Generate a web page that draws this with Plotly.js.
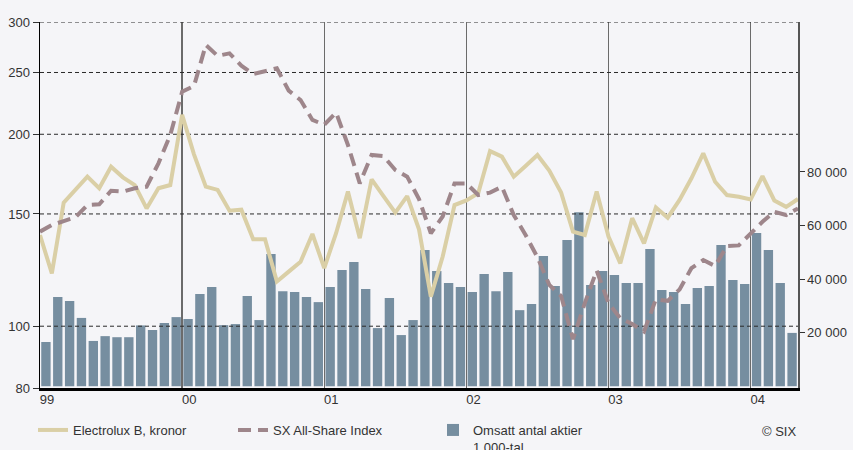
<!DOCTYPE html>
<html><head><meta charset="utf-8">
<script src="https://cdn.plot.ly/plotly-3.0.1.min.js"></script>
<style>html,body{margin:0;padding:0;background:#f5f5f8;}#chart{width:853px;height:450px;}</style>
</head><body><div id="chart"></div>
<script>
const yearLabels = ['99','00','01','02','03','04'];
const yearStarts = [0,12,24,36,48,60];
const priceTicks = [80,100,150,200,250,300];
const gridLevels = [100,150,200,250,300];
const volumeTicks = [20000,40000,60000,80000];
const volumeTickText = ['20 000','40 000','60 000','80 000'];

// Electrolux B, kronor (month-end values, Dec 1998 .. Apr 2004)
const electrolux = [139.0,121.0,156.2,163.6,171.6,164.6,177.9,171.2,166.5,153.0,164.6,166.5,
  214.5,186.0,165.5,163.6,151.8,152.3,136.9,136.9,117.5,121.8,126.2,139.5,
  123.4,139.9,162.6,137.4,170.0,160.0,150.7,160.0,141.9,111.3,128.6,154.9,
  157.5,161.6,188.2,184.5,171.6,178.4,185.6,175.4,162.0,140.7,139.0,162.6,
  138.2,125.5,147.7,134.9,153.6,148.0,157.8,170.6,186.7,168.5,160.6,159.6,
  158.0,172.0,157.5,153.9,158.3];

// SX All-Share Index (rebased)
const sxIndex = [140.7,144.1,146.2,148.2,154.9,155.3,163.1,162.6,164.6,165.5,180.1,199.5,
  233.2,238.1,276.1,265.4,267.9,256.2,248.7,251.6,253.8,234.1,226.3,210.6,
  207.0,216.3,192.4,167.5,185.6,184.8,175.8,171.6,158.3,139.9,148.6,167.5,
  167.5,160.6,162.0,165.5,149.4,139.0,128.3,116.1,111.5,95.4,108.7,122.3,
  108.7,102.9,100.8,98.1,110.2,109.6,114.2,123.3,127.0,124.3,133.6,133.9,
  140.0,145.8,151.2,149.4,153.0];

// Omsatt antal aktier, 1 000-tal (monthly, Jan 1999 .. Apr 2004)
const volume = [16500,33300,31800,25500,16900,18700,18300,18300,22700,21000,23600,25800,
  25100,34400,37000,22800,23200,33700,24700,49400,35500,35200,33300,31400,
  37000,43400,46400,36300,21700,32900,19100,24700,50900,43000,38500,37000,
  35200,41900,35500,42600,28400,30700,48600,37400,54600,65000,37800,43000,
  41500,38500,38500,51200,35900,35200,30700,36700,37400,52700,39700,38200,
  57200,50900,38500,19900];

const nMonths = volume.length;
const monthEnds = electrolux.map((_, i) => i);
const monthMids = volume.map((_, i) => i + 0.5);

const gridX = [], gridY = [];
gridLevels.forEach(v => { gridX.push(0, nMonths, null); gridY.push(v, v, null); });

const traces = [
  {type:'bar', x:monthMids, y:volume, xaxis:'x', yaxis:'y', name:'Omsatt antal aktier<br>1 000-tal',
   marker:{color:'#768ea0'}, legendrank:3, hoverinfo:'skip'},
  {type:'scatter', mode:'lines', x:gridX, y:gridY, xaxis:'x', yaxis:'y2', showlegend:false,
   line:{color:'#2a2a2a', width:1, dash:'4px,3px'}, hoverinfo:'skip'},
  {type:'scatter', mode:'lines', x:monthEnds, y:electrolux, xaxis:'x', yaxis:'y2', name:'Electrolux B, kronor',
   line:{color:'#dacfa6', width:4}, legendrank:1},
  {type:'scatter', mode:'lines', x:monthEnds, y:sxIndex, xaxis:'x', yaxis:'y2', name:'SX All-Share Index',
   line:{color:'#9e868b', width:4, dash:'13px,7px'}, legendrank:2}
];

const layout = {
  width:853, height:450,
  margin:{l:40, r:55, t:22, b:62},
  paper_bgcolor:'#f5f5f8', plot_bgcolor:'#f5f5f8',
  font:{family:'Liberation Sans, Arial, sans-serif', size:13, color:'#333'},
  showlegend:true,
  bargap:0.21,
  xaxis:{range:[0,nMonths], tickvals:yearStarts, ticktext:yearLabels, showgrid:true, gridcolor:'#6b6b6b',
    gridwidth:1.5, zeroline:false, showline:true, linecolor:'#000', linewidth:3, ticks:'',
    ticklabelshift:7, ticklabelstandoff:-3, fixedrange:true},
  yaxis:{side:'right', range:[-670,136000], tickvals:volumeTicks, ticktext:volumeTickText, ticks:'outside',
    ticklen:5, tickcolor:'#333', showgrid:false, zeroline:false, showline:true, linecolor:'#555', linewidth:1.5},
  yaxis2:{overlaying:'y', side:'left', type:'log', range:[Math.log10(80), Math.log10(300)], tickvals:priceTicks,
    ticktext:priceTicks.map(String), ticks:'outside', ticklen:6, tickcolor:'#333', showgrid:false, zeroline:false,
    showline:true, linecolor:'#000', linewidth:1.5},
  legend:{orientation:'h', xref:'container', yref:'container', x:33/853, xanchor:'left', y:1-415/450, yanchor:'top',
    entrywidth:155, entrywidthmode:'pixels', valign:'top', bgcolor:'rgba(0,0,0,0)', font:{size:13, color:'#333'}},
  annotations:[{text:'© SIX', xref:'paper', yref:'paper', x:1, xanchor:'right', y:(388-432)/366, yanchor:'middle',
    showarrow:false, font:{size:13, color:'#333'}}]
};

Plotly.newPlot('chart', traces, layout, {displayModeBar:false, staticPlot:true});
</script>
</body></html>
